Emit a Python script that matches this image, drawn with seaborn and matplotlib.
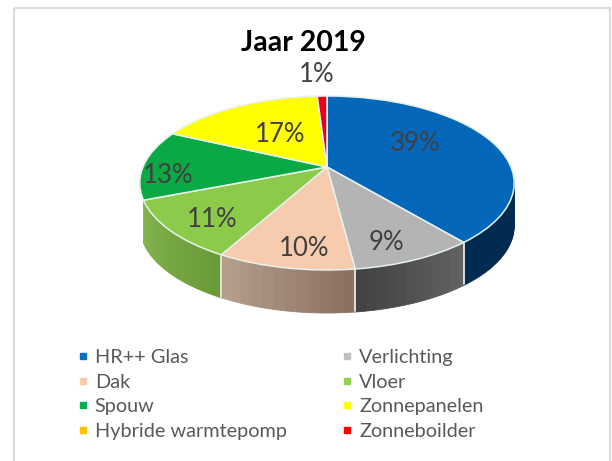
import numpy as np
import matplotlib
matplotlib.use('Agg')
import matplotlib.pyplot as plt
import matplotlib.colors as mcolors
from matplotlib.lines import Line2D
from matplotlib.patches import Rectangle
from matplotlib.transforms import Transform
import seaborn as sb

#chart values, clockwise from the top
categories = ['HR++ Glas', 'Verlichting', 'Dak', 'Vloer', 'Spouw', 'Zonnepanelen', 'Hybride warmtepomp', 'Zonneboilder']
values = [39, 9, 10, 11, 13, 17, 0, 1]
pct_labels = ['39%', '9%', '10%', '11%', '13%', '17%', '1%']
top_colors = ['#0467BA', '#B4B4B4', '#F6CBAE', '#8CCB49', '#09A945', '#FFFF00', '#FFC000', '#E8001C']
legend_colors = ['#0070C0', '#BFBFBF', '#F8CBAD', '#92D050', '#00B050', '#FFFF00', '#FFC000', '#FF0000']
#side wall shades, start and end of each slice going clockwise
wall_start = ['#012B50', '#626262', '#8C7160', '#6B9B38']
wall_end = ['#012B50', '#434343', '#B59E8C', '#84B44E']

sb.set_theme(style='white')
plt.rcParams['font.family'] = ['Lato', 'DejaVu Sans']

#pie geometry in pixels
cx, cy = 327, 183
rx, ry = 184, 87
tilt = 0.184
depth = 43


#perspective mapping of the flat unit pie to the picture
class Perspective(Transform):
    input_dims = 2
    output_dims = 2

    def __init__(self, drop=0):
        super().__init__()
        self.drop = drop

    def transform_non_affine(self, pts):
        pts = np.asarray(pts)
        den = 1 + tilt * pts[:, 1]
        x = cx + rx * pts[:, 0] / den
        y = cy - ry * (pts[:, 1] + tilt) / den + self.drop
        return np.column_stack([x, y])

    def inverted(self):
        return self


fig = plt.figure(figsize=(6.12, 4.61), dpi=100)
ax = fig.add_axes([0, 0, 1, 1])

#side walls are stacked pies, each slice split up for the shading
#only the front slices get a wall, the rest is left see-through
n_split = 12
wall_values = np.repeat(np.array(values) / n_split, n_split)
wall_colors = []
for start, end in zip(wall_start, wall_end):
    c1, c2 = mcolors.to_rgb(start), mcolors.to_rgb(end)
    for t in np.linspace(0, 1, n_split):
        wall_colors.append(tuple((1 - t) * a + t * b for a, b in zip(c1, c2)))
wall_colors += ['none'] * (len(wall_values) - len(wall_colors))

for drop in range(depth, 0, -1):
    wedges, _ = ax.pie(wall_values, colors=wall_colors, startangle=90, counterclock=False)
    for w, c in zip(wedges, wall_colors):
        w.set_edgecolor(c)
        w.set_linewidth(0.6)
        w.set_transform(Perspective(drop) + ax.transData)

#white seams on the side wall at the slice edges
shares = np.cumsum(values) / np.sum(values)
for share in shares[:3]:
    ang = 2 * np.pi * share
    edge = np.array([[np.sin(ang), np.cos(ang)]])
    x0, y0 = Perspective(0).transform(edge)[0]
    ax.plot([x0, x0], [y0, y0 + depth - 1], color='#ECE8E4', lw=1.3, zorder=3)

#top face
wedges, _ = ax.pie(values, colors=top_colors, startangle=90, counterclock=False,
                   wedgeprops={'edgecolor': '#E6F2EE', 'linewidth': 1.1})
for w in wedges:
    w.set_transform(Perspective() + ax.transData)
    w.set_zorder(4)

ax.set_aspect('auto')
ax.set_xlim(0, 612)
ax.set_ylim(461, 0)

#percentage labels
label_x = [415, 386, 304, 212, 168, 280, 317]
label_y = [143, 242, 248, 219, 175, 134, 75]
for txt, x, y in zip(pct_labels, label_x, label_y):
    ax.text(x, y, txt, fontsize=18.5, color='#404040', ha='center', va='center', zorder=6)

ax.text(303, 43, 'Jaar 2019', fontsize=20.5, fontweight='bold', color='black', ha='center', va='center', zorder=6)

#outer chart frame, its bottom runs off the picture
ax.add_patch(Rectangle((14, 8), 596, 480, fill=False, edgecolor='#DCDCDC', lw=1.6, zorder=1))

#legend fills by column so order the handles to read by row
order = [0, 2, 4, 6, 1, 3, 5, 7]
handles = [Line2D([], [], ls='', marker='s', ms=4.5, color=legend_colors[i], label=categories[i]) for i in order]
ax.legend(handles=handles, ncols=2, loc='upper left', bbox_to_anchor=(73, 349), bbox_transform=ax.transData,
          frameon=False, fontsize=14.3, labelcolor='#595959', labelspacing=0.38, columnspacing=2.55,
          handletextpad=0.1, handlelength=1.0, borderpad=0, borderaxespad=0)

plt.savefig('out.png', dpi=100)
